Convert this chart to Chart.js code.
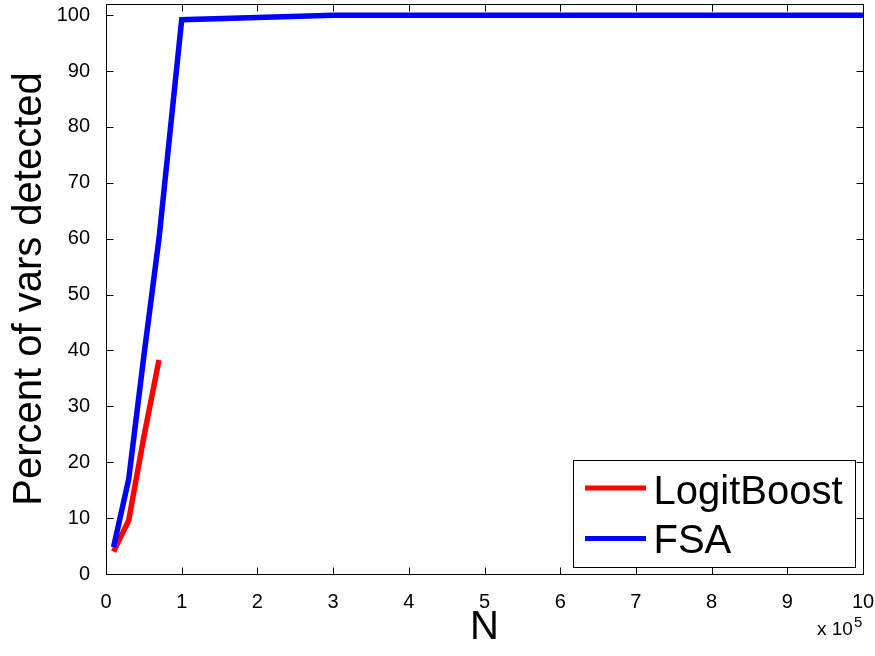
<!DOCTYPE html>
<html><head><meta charset="utf-8">
<script src="https://cdn.jsdelivr.net/npm/chart.js@4"></script>
<style>html,body{margin:0;padding:0;background:#fff}#wrap{width:875px;height:656px}</style>
</head><body><div id="wrap"><canvas id="c" width="875" height="656"></canvas></div>
<script>
// N in units of 10^5
const seriesNames = ['LogitBoost', 'FSA'];
const seriesColors = ['#ff0000', '#0000ff'];
const logitN = [0.1, 0.3, 0.5, 0.7];
const logitPct = [4.0, 9.6, 24.5, 38.3];
const fsaN = [0.1, 0.3, 0.5, 0.7, 1, 2, 3, 4, 5, 6, 7, 8, 9, 10];
const fsaPct = [4.8, 17.0, 39.0, 60.0, 99.2, 99.6, 100, 100, 100, 100, 100, 100, 100, 100];
const xTickValues = [0, 1, 2, 3, 4, 5, 6, 7, 8, 9, 10];
const yTickValues = [0, 10, 20, 30, 40, 50, 60, 70, 80, 90, 100];
const xTitle = 'N';
const yTitle = 'Percent of vars detected';
const xExponent = '5';

const FONT = '"Liberation Sans", Arial, Helvetica, sans-serif';

const boxPlugin = {
  id: 'boxPlugin',
  afterDraw(chart) {
    const ctx = chart.ctx;
    const a = chart.chartArea;
    const xs = chart.scales.x, ys = chart.scales.y;
    const L = Math.round(a.left) + 0.5, R = Math.round(a.right) + 0.5;
    const T = Math.round(a.top) + 0.5, B = Math.round(a.bottom) + 0.5;
    ctx.save();
    ctx.strokeStyle = '#000';
    ctx.lineWidth = 1;
    ctx.beginPath();
    ctx.rect(L, T, R - L, B - T);
    const tl = 7;
    xs.ticks.forEach(t => {
      const px = Math.round(xs.getPixelForValue(t.value)) + 0.5;
      ctx.moveTo(px, B); ctx.lineTo(px, B - tl);
      ctx.moveTo(px, T); ctx.lineTo(px, T + tl);
    });
    ys.ticks.forEach(t => {
      const py = Math.round(ys.getPixelForValue(t.value)) + 0.5;
      ctx.moveTo(L, py); ctx.lineTo(L + tl, py);
      ctx.moveTo(R, py); ctx.lineTo(R - tl, py);
    });
    ctx.stroke();

    // exponent label
    ctx.fillStyle = '#000';
    ctx.textBaseline = 'alphabetic';
    ctx.textAlign = 'left';
    ctx.font = '19px ' + FONT;
    ctx.fillText('x 10', a.right - 46, 635);
    const w = ctx.measureText('x 10').width;
    ctx.font = '15px ' + FONT;
    ctx.fillText(xExponent, a.right - 46 + w + 1, 627);

    // legend
    const bx = Math.round(a.right - 290.5) + 0.5;
    const by = Math.round(a.bottom - 114.5) + 0.5;
    const bw = 282, bh = 107;
    ctx.fillStyle = '#fff';
    ctx.fillRect(bx, by, bw, bh);
    ctx.strokeStyle = '#000';
    ctx.lineWidth = 1;
    ctx.strokeRect(bx, by, bw, bh);
    const rowLine = [27.5, 78];
    const rowBase = [43.5, 92.5];
    chart.data.datasets.forEach((ds, i) => {
      ctx.strokeStyle = ds.borderColor;
      ctx.lineWidth = 5;
      ctx.lineCap = 'butt';
      ctx.beginPath();
      ctx.moveTo(bx + 11.5, by + rowLine[i]);
      ctx.lineTo(bx + 72.5, by + rowLine[i]);
      ctx.stroke();
      ctx.fillStyle = '#000';
      ctx.font = '40px ' + FONT;
      ctx.fillText(ds.label, bx + 80, by + rowBase[i]);
    });
    ctx.restore();
  }
};

const toPts = (xs, ys) => xs.map((x, i) => ({ x: x, y: ys[i] }));

new Chart(document.getElementById('c'), {
  type: 'line',
  data: {
    datasets: [
      { label: seriesNames[0], data: toPts(logitN, logitPct), borderColor: seriesColors[0],
        borderWidth: 5.5, pointRadius: 0, fill: false, tension: 0, order: 1,
        borderJoinStyle: 'miter', borderCapStyle: 'butt' },
      { label: seriesNames[1], data: toPts(fsaN, fsaPct), borderColor: seriesColors[1],
        borderWidth: 5.5, pointRadius: 0, fill: false, tension: 0, order: 0,
        borderJoinStyle: 'miter', borderCapStyle: 'butt' }
    ]
  },
  options: {
    responsive: false,
    animation: false,
    devicePixelRatio: 1,
    layout: { autoPadding: false, padding: { top: 4, right: 12, left: 0, bottom: 0 } },
    plugins: { legend: { display: false }, tooltip: { enabled: false } },
    scales: {
      x: {
        type: 'linear', min: 0, max: 10,
        afterBuildTicks: s => { s.ticks = xTickValues.map(v => ({ value: v })); },
        afterFit: s => { s.height = 82; s.paddingLeft = 0; s.paddingRight = 0; s.paddingTop = 0; s.paddingBottom = 0; },
        grid: { display: false },
        border: { display: false },
        ticks: { color: '#000', padding: 8, maxRotation: 0, font: { family: FONT, size: 20 } },
        title: { display: true, text: xTitle, color: '#000', padding: { top: 0, bottom: 4 },
                 font: { family: FONT, size: 40 } }
      },
      y: {
        type: 'linear', min: 0, max: 102,
        afterBuildTicks: s => { s.ticks = yTickValues.map(v => ({ value: v })); },
        afterFit: s => { s.width = 106; s.paddingLeft = 0; s.paddingRight = 0; s.paddingTop = 0; s.paddingBottom = 0; },
        grid: { display: false },
        border: { display: false },
        ticks: { color: '#000', padding: 8, font: { family: FONT, size: 20 } },
        title: { display: true, text: yTitle, color: '#000', padding: { top: 6, bottom: 0 },
                 font: { family: FONT, size: 40 } }
      }
    }
  },
  plugins: [boxPlugin]
});
</script></body></html>
